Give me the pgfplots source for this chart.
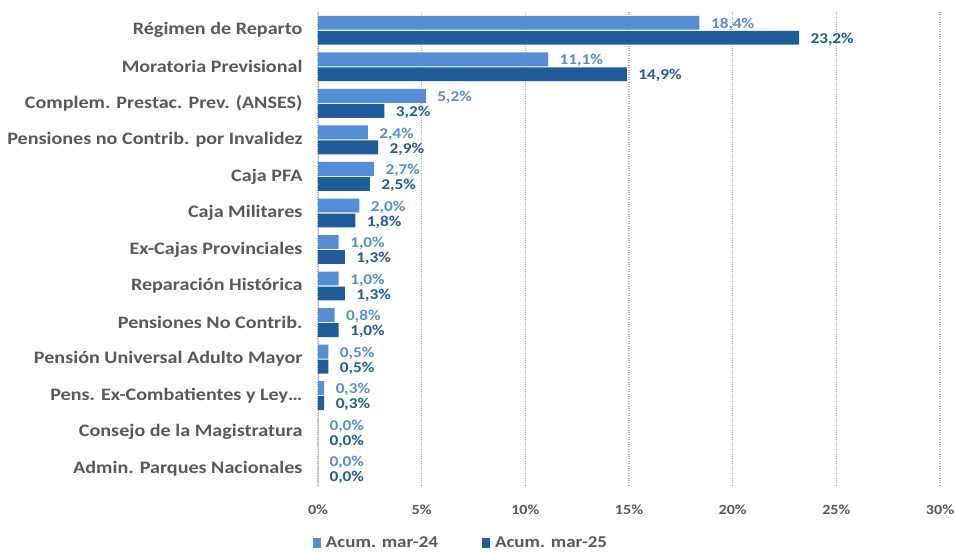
\documentclass[border=0pt]{standalone}
\usepackage{pgfplots}
\pgfplotsset{compat=1.18}
\usepackage{fontspec}
\setmainfont{Carlito}[FakeStretch=1.15]
\definecolor{c24}{HTML}{558ED5}
\definecolor{c25}{HTML}{1F5C99}
\definecolor{lbl}{HTML}{595959}
\definecolor{gridc}{HTML}{B0B0B0}

\begin{document}
\begin{tikzpicture}
\begin{axis}[
  xbar,
  scale only axis,
  width=622pt, height=475pt,
  xmin=0, xmax=30,
  ymin=-0.5, ymax=12.5,
  y dir=reverse,
  bar width=0.38,
  axis lines*=left,
  x axis line style={draw=none},
  y axis line style={draw=gridc!70, line width=0.8pt},
  major tick length=0pt,
  xtick={0,5,...,30},
  xticklabel={\pgfmathprintnumber{\tick}\%},
  xmajorgrids=true,
  grid style={gridc, dotted, line width=1.3pt},
  ytick={0,...,12},
  yticklabels={Régimen de Reparto, Moratoria Previsional, Complem. Prestac. Prev. (ANSES), Pensiones no Contrib. por Invalidez, Caja PFA, Caja Militares, Ex-Cajas Provinciales, Reparación Histórica, Pensiones No Contrib.\ , Pensión Universal Adulto Mayor, Pens. Ex-Combatientes y Ley…, Consejo de la Magistratura, Admin. Parques Nacionales},
  yticklabel style={font=\fontsize{17.5}{19}\selectfont\bfseries, text=lbl, xshift=-12pt},
  xticklabel style={font=\fontsize{14}{16}\selectfont\bfseries, text=lbl, yshift=-14pt},
  /pgf/number format/assume math mode=true,
  nodes near coords={\pgfmathprintnumber[fixed, fixed zerofill, precision=1, use comma]{\pgfplotspointmeta}\%},
  nodes near coords style={font=\fontsize{15}{17}\selectfont\bfseries, xshift=8pt, yshift=-1.5pt},
  legend style={at={(0.23,-0.118)}, anchor=center, draw=none, legend columns=2,
    font=\fontsize{16.5}{18}\selectfont\bfseries, text=lbl,
    /tikz/every even column/.append style={column sep=42pt}},
  legend image code/.code={\fill[#1] (0pt,-5pt) rectangle (8pt,5pt); \path (11pt,0pt);},
  clip=false,
]
\addplot[fill=c24, draw=none, bar shift=-0.205,
  every node near coord/.append style={text=c24}] coordinates {
  (18.4,0) (11.1,1) (5.2,2) (2.4,3) (2.7,4) (2.0,5) (1.0,6)
  (1.0,7) (0.8,8) (0.5,9) (0.3,10) (0.0,11) (0.0,12)
};
\addlegendentry{Acum. mar-24}
\addplot[fill=c25, draw=none, bar shift=0.205,
  every node near coord/.append style={text=c25}] coordinates {
  (23.2,0) (14.9,1) (3.2,2) (2.9,3) (2.5,4) (1.8,5) (1.3,6)
  (1.3,7) (1.0,8) (0.5,9) (0.3,10) (0.0,11) (0.0,12)
};
\addlegendentry{Acum. mar-25}
\end{axis}
\pgfresetboundingbox
\path ([xshift=-318pt,yshift=12pt]current axis.north west) rectangle ([xshift=14pt,yshift=-64pt]current axis.south east);
\end{tikzpicture}
\end{document}
